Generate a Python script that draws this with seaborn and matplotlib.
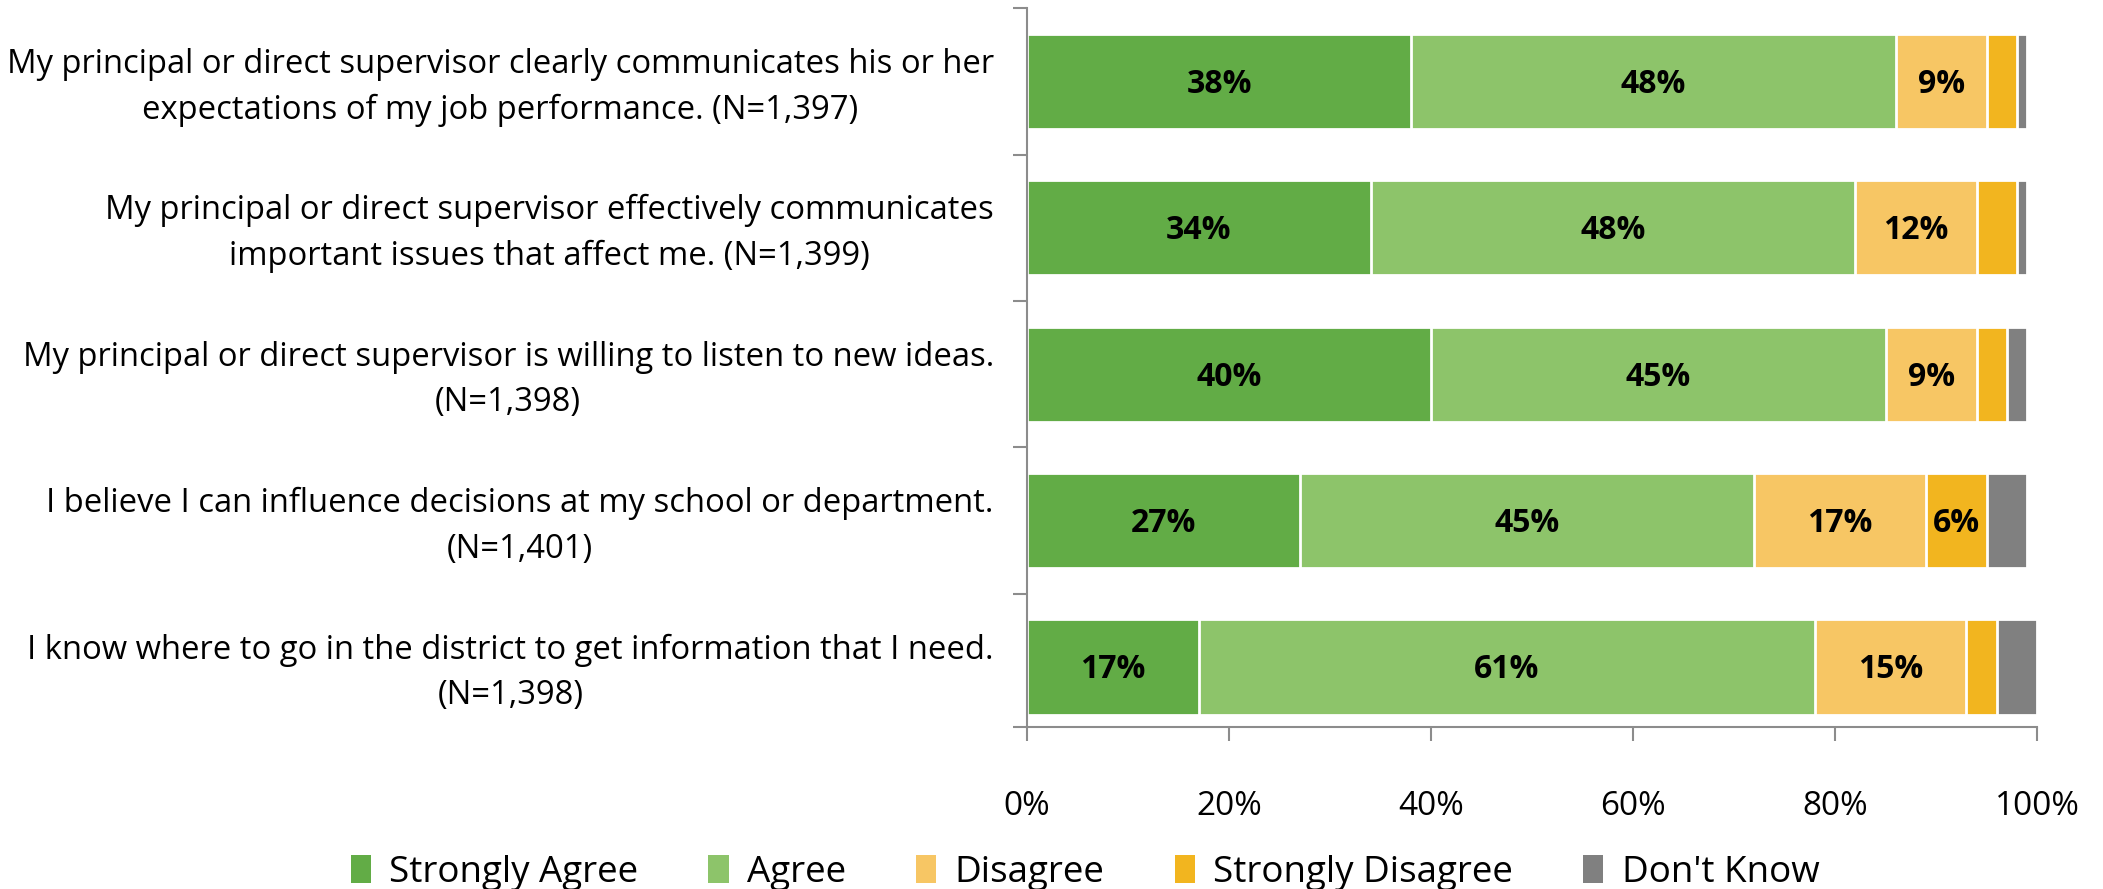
import matplotlib
matplotlib.use("Agg")
import matplotlib.pyplot as plt
import seaborn as sns
import numpy as np
import pandas as pd
from matplotlib.patches import Patch
from matplotlib.ticker import PercentFormatter

questions = [
    "My principal or direct supervisor clearly communicates his or her\nexpectations of my job performance. (N=1,397)",
    "My principal or direct supervisor effectively communicates\nimportant issues that affect me. (N=1,399)",
    "My principal or direct supervisor is willing to listen to new ideas.\n(N=1,398)",
    "I believe I can influence decisions at my school or department.\n(N=1,401)",
    "I know where to go in the district to get information that I need.\n(N=1,398)",
]
responses = ["Strongly Agree", "Agree", "Disagree", "Strongly Disagree", "Don't Know"]
strongly_agree = [38, 34, 40, 27, 17]
agree = [48, 48, 45, 45, 61]
disagree = [9, 12, 9, 17, 15]
strongly_disagree = [3, 4, 3, 6, 3]
dont_know = [1, 1, 2, 4, 4]
colors = ["#62AC46", "#8DC46A", "#F7C664", "#F2B51F", "#808080"]

sns.set_theme(style="white")
plt.rcParams["font.family"] = ["Open Sans", "DejaVu Sans"]
plt.rcParams["text.color"] = "black"
plt.rcParams["xtick.color"] = "black"

series = [strongly_agree, agree, disagree, strongly_disagree, dont_know]
values = np.array(series, dtype=float)
cum = np.cumsum(values, axis=0)

fig = plt.figure(figsize=(21.03, 8.89), dpi=100)
ax = fig.add_axes([0.4884, 0.1822, 0.4803, 0.8085])

# stacked bars: draw cumulative totals from the widest down
for k in range(len(responses) - 1, -1, -1):
    df = pd.DataFrame({"question": questions, "total": cum[k]})
    sns.barplot(data=df, x="total", y="question", orient="h", color=colors[k],
                width=0.65, edgecolor="white", linewidth=2, saturation=1, ax=ax)

# value labels for segments wide enough to hold them
for k in range(len(responses)):
    for i in range(len(questions)):
        v = values[k, i]
        if v >= 5:
            ax.text(cum[k, i] - v / 2, i + 0.02, f"{int(v)}%", ha="center", va="center",
                    fontsize=23, fontweight="bold", color="black")

ax.set_xlim(0, 100)
ax.set_ylim(4.41, -0.5)
ax.set_xticks(np.arange(0, 101, 20))
ax.xaxis.set_major_formatter(PercentFormatter(decimals=0))
ax.set_yticks([-0.5, 0.5, 1.5, 2.5, 3.5, 4.41])
ax.set_yticklabels([])
ax.set_xlabel("")
ax.set_ylabel("")
for s in ["top", "right"]:
    ax.spines[s].set_visible(False)
for s in ["left", "bottom"]:
    ax.spines[s].set_color("#8c8c8c")
    ax.spines[s].set_linewidth(1.5)
ax.tick_params(axis="x", bottom=True, length=10, width=1.5, color="#8c8c8c",
               labelcolor="black", labelsize=24, pad=35, direction="out")
ax.tick_params(axis="y", left=True, length=10, width=1.5, color="#8c8c8c", direction="out")

for i, q in enumerate(questions):
    ax.text(-0.033, i + 0.04, q, transform=ax.get_yaxis_transform(), ha="right", va="center",
            multialignment="center", fontsize=23.6, linespacing=1.5, color="black")

handles = [Patch(facecolor=c, edgecolor="none") for c in colors]
fig.legend(handles, responses, loc="center", bbox_to_anchor=(0.516, 0.018), ncol=5,
           frameon=False, fontsize=26.5, handlelength=0.55, handleheight=0.8,
           handletextpad=0.5, columnspacing=1.9)

fig.savefig("out.png", dpi=100)
